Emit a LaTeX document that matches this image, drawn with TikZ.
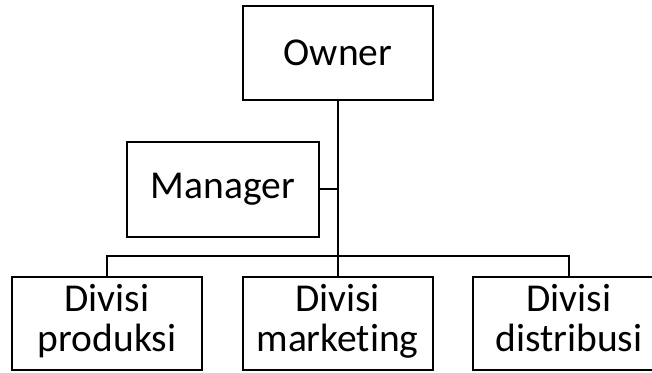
\documentclass[tikz,border=0pt]{standalone}
\usepackage{fontspec}
\setmainfont{Carlito}[Ligatures=NoCommon]
\begin{document}
\begin{tikzpicture}[x=1pt,y=1pt,
  box/.style={draw=black,line width=2pt,minimum width=190pt,minimum height=94pt,inner sep=0pt,align=center,
    font=\fontsize{39.5}{37}\selectfont},
  conn/.style={line width=2pt}]
\useasboundingbox (0,0) rectangle (652,372);
\clip (0,0) rectangle (652,372);
\node[box] (owner) at (338,319) {Owner};
\node[box,minimum width=192pt,minimum height=95pt] (manager) at (223,182.5) {Manager};
\node[box,minimum height=93pt] (prod) at (107,48.5) {Divisi\strut\\produksi\strut};
\node[box,minimum height=93pt] (mkt) at (337.5,48.5) {Divisi\strut\\marketing\strut};
\node[box,minimum height=93pt,minimum width=192pt] (dist) at (569,48.5) {Divisi\strut\\distribusi\strut};
\coordinate (bus) at (338,116);
\coordinate (mj) at (338,183);
\draw[conn] (owner.south) -- (bus);
\draw[conn] (manager.east |- mj) -- (mj);
\draw[conn] (prod.north) |- (bus) -| (dist.north);
\draw[conn] (mkt.north) -- (mkt.north |- bus);
\end{tikzpicture}
\end{document}
